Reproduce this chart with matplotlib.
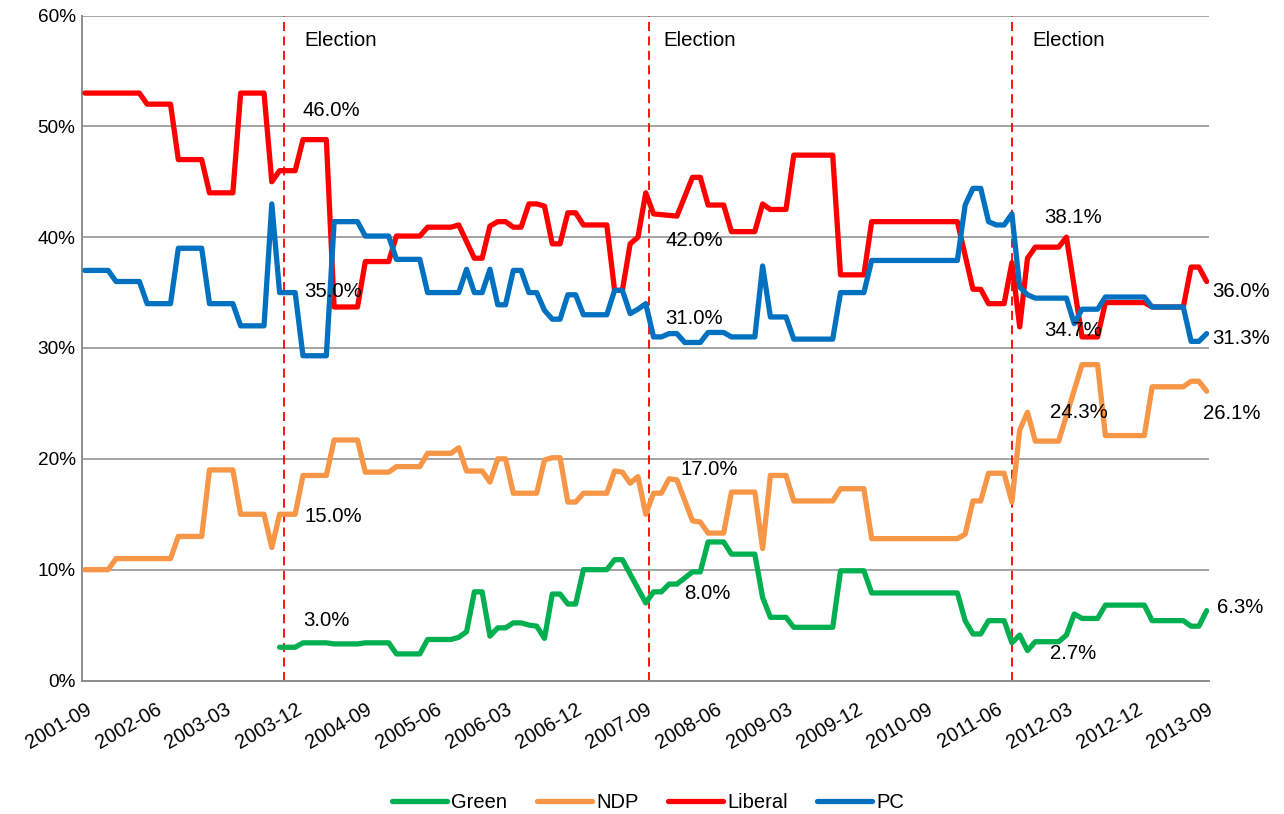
import matplotlib
matplotlib.use("Agg")
import matplotlib.pyplot as plt

# x positions are months counted from 2001-09
TICK_LABELS = ["2001-09", "2002-06", "2003-03", "2003-12", "2004-09", "2005-06",
               "2006-03", "2006-12", "2007-09", "2008-06", "2009-03", "2009-12",
               "2010-09", "2011-06", "2012-03", "2012-12", "2013-09"]
TICK_MONTHS = list(range(0, 145, 9))

ELECTION_MONTHS = [25.6, 72.4, 119.0]
ELECTION_TEXT_MONTHS = [28.2, 74.2, 121.6]

green_m = [25, 27, 28, 31, 32, 35, 36, 39, 40, 43, 44, 47, 48, 49, 50, 51, 52, 53, 54,
           55, 56, 57, 58, 59, 60, 61, 62, 63, 64, 67, 68, 69, 72, 73, 74, 75, 76, 78,
           79, 80, 82, 83, 86, 87, 88, 90, 91, 96, 97, 100, 101, 112, 113, 114, 115,
           116, 118, 119, 120, 121, 122, 125, 126, 127, 128, 130, 131, 136, 137, 141,
           142, 143, 144]
green_v = [3.0, 3.0, 3.4, 3.4, 3.3, 3.3, 3.4, 3.4, 2.4, 2.4, 3.7, 3.7, 3.9, 4.4, 8.0,
           8.0, 4.0, 4.75, 4.75, 5.2, 5.2, 5.0, 4.9, 3.8, 7.8, 7.8, 6.9, 6.9, 10.0, 10.0,
           10.9, 10.9, 7.0, 8.0, 8.0, 8.7, 8.7, 9.8, 9.8, 12.5, 12.5, 11.4, 11.4, 7.5,
           5.7, 5.7, 4.8, 4.8, 9.9, 9.9, 7.9, 7.9, 5.4, 4.2, 4.2, 5.4, 5.4, 3.4, 4.1,
           2.7, 3.5, 3.5, 4.1, 6.0, 5.6, 5.6, 6.8, 6.8, 5.4, 5.4, 4.9, 4.9, 6.3]

ndp_m = [0, 3, 4, 11, 12, 15, 16, 19, 20, 23, 24, 25, 27, 28, 31, 32, 35, 36, 39, 40,
         43, 44, 47, 48, 49, 51, 52, 53, 54, 55, 58, 59, 60, 61, 62, 63, 64, 67, 68,
         69, 70, 71, 72, 73, 74, 75, 76, 78, 79, 80, 82, 83, 86, 87, 88, 90, 91, 96,
         97, 100, 101, 112, 113, 114, 115, 116, 118, 119, 120, 121, 122, 125, 128, 130,
         131, 136, 137, 141, 142, 143, 144]
ndp_v = [10, 10, 11, 11, 13, 13, 19, 19, 15, 15, 12, 15, 15, 18.5, 18.5, 21.7, 21.7,
         18.8, 18.8, 19.3, 19.3, 20.5, 20.5, 21.0, 18.9, 18.9, 17.9, 20.0, 20.0, 16.9,
         16.9, 19.9, 20.1, 20.1, 16.1, 16.1, 16.9, 16.9, 18.9, 18.8, 17.8, 18.4, 15.0,
         16.9, 16.9, 18.2, 18.1, 14.4, 14.3, 13.3, 13.3, 17.0, 17.0, 11.9, 18.5, 18.5,
         16.2, 16.2, 17.3, 17.3, 12.8, 12.8, 13.2, 16.2, 16.2, 18.7, 18.7, 16.1, 22.6,
         24.2, 21.6, 21.6, 28.5, 28.5, 22.1, 22.1, 26.5, 26.5, 27.0, 27.0, 26.1]

liberal_m = [0, 7, 8, 11, 12, 15, 16, 19, 20, 23, 24, 25, 27, 28, 31, 32, 35, 36, 39,
             40, 43, 44, 47, 48, 50, 51, 52, 53, 54, 55, 56, 57, 58, 59, 60, 61, 62, 63,
             64, 67, 68, 69, 70, 71, 72, 73, 76, 78, 79, 80, 82, 83, 86, 87, 88, 90, 91,
             96, 97, 100, 101, 112, 114, 115, 116, 118, 119, 120, 121, 122, 125, 126,
             128, 130, 131, 136, 137, 141, 142, 143, 144]
liberal_v = [53, 53, 52, 52, 47, 47, 44, 44, 53, 53, 45, 46, 46, 48.8, 48.8, 33.7, 33.7,
             37.8, 37.8, 40.1, 40.1, 40.9, 40.9, 41.1, 38.1, 38.1, 41.0, 41.4, 41.4,
             40.9, 40.9, 43.0, 43.0, 42.8, 39.4, 39.4, 42.2, 42.2, 41.1, 41.1, 35.2,
             35.2, 39.4, 40.0, 44.0, 42.1, 41.9, 45.4, 45.4, 42.9, 42.9, 40.5, 40.5,
             43.0, 42.5, 42.5, 47.4, 47.4, 36.6, 36.6, 41.4, 41.4, 35.3, 35.3, 34.0,
             34.0, 37.7, 31.9, 38.1, 39.1, 39.1, 40.0, 31.0, 31.0, 34.1, 34.1, 33.7,
             33.7, 37.3, 37.3, 36.0]

pc_m = [0, 3, 4, 7, 8, 11, 12, 15, 16, 19, 20, 23, 24, 25, 27, 28, 31, 32, 35, 36, 39,
        40, 43, 44, 48, 49, 50, 51, 52, 53, 54, 55, 56, 57, 58, 59, 60, 61, 62, 63, 64,
        67, 68, 69, 70, 71, 72, 73, 74, 75, 76, 77, 79, 80, 82, 83, 86, 87, 88, 90, 91,
        96, 97, 100, 101, 112, 113, 114, 115, 116, 117, 118, 119, 120, 121, 122, 126,
        127, 128, 130, 131, 136, 137, 141, 142, 143, 144]
pc_v = [37, 37, 36, 36, 34, 34, 39, 39, 34, 34, 32, 32, 43, 35, 35, 29.3, 29.3, 41.4,
        41.4, 40.1, 40.1, 38.0, 38.0, 35.0, 35.0, 37.1, 35.0, 35.0, 37.1, 33.9, 33.9,
        37.0, 37.0, 35.0, 35.0, 33.4, 32.6, 32.6, 34.8, 34.8, 33.0, 33.0, 35.2, 35.2,
        33.1, 33.5, 34.0, 31.0, 31.0, 31.3, 31.3, 30.5, 30.5, 31.4, 31.4, 31.0, 31.0,
        37.4, 32.8, 32.8, 30.8, 30.8, 35.0, 35.0, 37.9, 37.9, 42.9, 44.4, 44.4, 41.4,
        41.1, 41.1, 42.1, 35.5, 34.8, 34.5, 34.5, 32.2, 33.5, 33.5, 34.6, 34.6, 33.7,
        33.7, 30.6, 30.6, 31.3]

# value labels: (month, value, text)
label_m = [28.0, 28.2, 28.2, 28.0, 74.5, 74.5, 76.5, 76.9,
           123.2, 123.2, 123.9, 123.9, 144.7, 144.7, 143.5, 145.3]
label_v = [51.4, 35.1, 14.8, 5.4, 39.7, 32.7, 19.0, 7.85,
           41.8, 31.6, 24.2, 2.4, 35.1, 30.9, 24.1, 6.6]
label_t = ["46.0%", "35.0%", "15.0%", "3.0%", "42.0%", "31.0%", "17.0%", "8.0%",
           "38.1%", "34.7%", "24.3%", "2.7%", "36.0%", "31.3%", "26.1%", "6.3%"]

plt.rcParams["font.family"] = ["Liberation Sans", "DejaVu Sans"]

W, H = 1284, 814
fig = plt.figure(figsize=(W / 100, H / 100), dpi=100)
ax = fig.add_axes([82.5 / W, 1 - 680.5 / H, (1209 - 82.5) / W, (680.5 - 15.5) / H])

grid_c = "#8c8c8c"
for v in range(10, 61, 10):
    ax.axhline(v, color=grid_c, lw=1.1, zorder=1)

for m, tm in zip(ELECTION_MONTHS, ELECTION_TEXT_MONTHS):
    ax.axvline(m, color="#ff0000", lw=1.3, dashes=(5, 3), zorder=2)
    ax.text(tm, 57.7, "Election", fontsize=14.7, va="center", ha="left")

style = dict(lw=3.8, solid_joinstyle="round", solid_capstyle="round", zorder=3)
ax.plot(green_m, green_v, color="#00b050", label="Green", **style)
ax.plot(ndp_m, ndp_v, color="#f79646", label="NDP", **style)
ax.plot(liberal_m, liberal_v, color="#ff0000", label="Liberal", **style)
ax.plot(pc_m, pc_v, color="#0070c0", label="PC", **style)

for m, v, t in zip(label_m, label_v, label_t):
    ax.text(m, v, t, fontsize=14.7, va="center", ha="left", zorder=5)

ax.set_xlim(-0.3, 144.3)
ax.set_ylim(0, 60)
ax.set_yticks(range(0, 61, 10))
ax.set_yticklabels([f"{v}%" for v in range(0, 61, 10)], fontsize=13.7)
ax.set_xticks(TICK_MONTHS)
ax.set_xticklabels(TICK_LABELS, fontsize=14.2, rotation=30, ha="right",
                   va="top", rotation_mode="anchor")
ax.tick_params(axis="both", length=0)
ax.tick_params(axis="x", pad=14)
ax.tick_params(axis="y", pad=5)

for s in ["top", "right"]:
    ax.spines[s].set_visible(False)
for s in ["left", "bottom"]:
    ax.spines[s].set_color(grid_c)
    ax.spines[s].set_linewidth(1.4)

fig.legend(loc="center", bbox_to_anchor=(648 / W, 1 - 803 / H), ncol=4,
           frameon=False, fontsize=14.5, handlelength=2.75, handletextpad=0.2,
           columnspacing=1.45)

fig.savefig("out.png", dpi=100)
